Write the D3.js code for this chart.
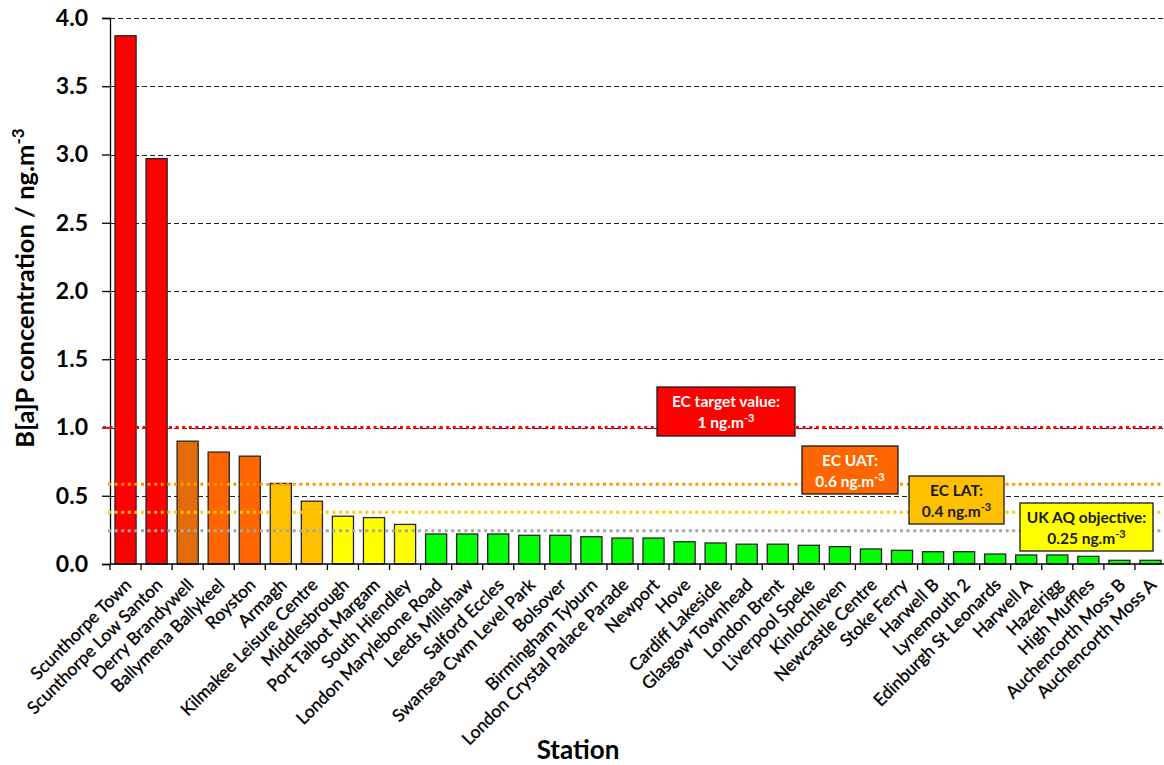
<!DOCTYPE html>
<html>
<head>
<meta charset="utf-8">
<script src="https://cdn.jsdelivr.net/npm/d3@7"></script>
<style>
  html, body { margin: 0; padding: 0; background: #fff; }
  svg { display: block; }
  text { font-family: Lato, "Open Sans", sans-serif; }
</style>
</head>
<body>
<svg id="chart" width="1164" height="765"></svg>
<script>
// ---- data ----
const stations = [
  "Scunthorpe Town", "Scunthorpe Low Santon", "Derry Brandywell", "Ballymena Ballykeel",
  "Royston", "Armagh", "Kilmakee Leisure Centre", "Middlesbrough", "Port Talbot Margam",
  "South Hiendley", "London Marylebone Road", "Leeds Millshaw", "Salford Eccles",
  "Swansea Cwm Level Park", "Bolsover", "Birmingham Tyburn", "London Crystal Palace Parade",
  "Newport", "Hove", "Cardiff Lakeside", "Glasgow Townhead", "London Brent",
  "Liverpool Speke", "Kinlochleven", "Newcastle Centre", "Stoke Ferry", "Harwell B",
  "Lynemouth 2", "Edinburgh St Leonards", "Harwell A", "Hazelrigg", "High Muffles",
  "Auchencorth Moss B", "Auchencorth Moss A"
];
const values = [
  3.87, 2.97, 0.90, 0.82, 0.79, 0.59, 0.46, 0.35, 0.34, 0.29, 0.22, 0.22, 0.22,
  0.21, 0.21, 0.20, 0.19, 0.19, 0.163, 0.154, 0.145, 0.145, 0.137, 0.127, 0.11,
  0.10, 0.09, 0.09, 0.073, 0.066, 0.066, 0.056, 0.027, 0.027
];
const bandClass = [
  "target", "target", "uatNI", "uat", "uat", "lat", "lat", "aq", "aq", "aq",
  "ok", "ok", "ok", "ok", "ok", "ok", "ok", "ok", "ok", "ok", "ok", "ok", "ok",
  "ok", "ok", "ok", "ok", "ok", "ok", "ok", "ok", "ok", "ok", "ok"
];
const yTicks = [0, 0.5, 1.0, 1.5, 2.0, 2.5, 3.0, 3.5, 4.0];
const refNames = ["target", "uat", "lat", "aq"];
const refLevels = [1.0, 0.585, 0.38, 0.243];
const refLabel1 = ["EC target value:", "EC UAT:", "EC LAT:", "UK AQ objective:"];
const refLabel2 = ["1 ng.m", "0.6 ng.m", "0.4 ng.m", "0.25 ng.m"];

// ---- styles ----
const fillColor = d3.scaleOrdinal()
  .domain(["target", "uatNI", "uat", "lat", "aq", "ok"])
  .range(["#ff0000", "#e36c0a", "#ff6600", "#ffc000", "#ffff00", "#00ff00"]);
const lineColor = d3.scaleOrdinal()
  .domain(refNames)
  .range(["#ff0000", "#ff9900", "#ffcc00", "#a6a6a6"]);
const boxFill = d3.scaleOrdinal()
  .domain(refNames)
  .range(["#ff0000", "#ff6600", "#ffc000", "#ffff00"]);
const boxText = d3.scaleOrdinal()
  .domain(refNames)
  .range(["#ffffff", "#ffffff", "#1a1a1a", "#1a1a1a"]);
// annotation box geometry (layout)
const boxes = [
  {x: 657, y: 387, w: 138, h: 49},
  {x: 802, y: 446, w: 96, h: 48},
  {x: 909, y: 476, w: 95, h: 48},
  {x: 1020, y: 503, w: 133, h: 48}
];

const svg = d3.select("#chart");
const mLeft = 110, mRight = 1166, mTop = 18, mBottom = 564;

const x = d3.scaleBand().domain(stations).range([mLeft, mRight]).paddingInner(0.32).paddingOuter(0.16);
const xb = d3.scaleBand().domain(stations).range([mLeft, mRight]);
const y = d3.scaleLinear().domain([0, 4]).range([mBottom, mTop]);

// gridlines
svg.append("g").selectAll("line")
  .data(yTicks.filter(t => t > 0))
  .join("line")
  .attr("x1", mLeft).attr("x2", 1163)
  .attr("y1", d => Math.round(y(d)) + 0.5).attr("y2", d => Math.round(y(d)) + 0.5)
  .attr("stroke", "#222").attr("stroke-width", 1).attr("stroke-dasharray", "5,3");

// bars
svg.append("g").selectAll("rect")
  .data(stations)
  .join("rect")
  .attr("x", d => x(d))
  .attr("width", x.bandwidth())
  .attr("y", (d, i) => y(values[i]))
  .attr("height", (d, i) => y(0) - y(values[i]))
  .attr("fill", (d, i) => fillColor(bandClass[i]))
  .attr("stroke", "#262626").attr("stroke-width", 1.3);

// y axis
const yAxis = d3.axisLeft(y).tickValues(yTicks).tickFormat(d3.format(".1f")).tickSize(8).tickPadding(14);
const gy = svg.append("g").attr("transform", `translate(${mLeft},0)`).call(yAxis);
gy.select(".domain").attr("stroke", "#000").attr("stroke-width", 1.3);
gy.selectAll(".tick line").attr("stroke", "#000").attr("stroke-width", 1.3);
gy.selectAll(".tick text").attr("font-size", 23).attr("font-weight", "bold").attr("fill", "#000")
  .attr("font-family", "Lato, sans-serif");

// x axis
const gx = svg.append("g").attr("transform", `translate(0,${mBottom})`);
gx.append("line").attr("x1", mLeft).attr("x2", mRight).attr("y1", 0).attr("y2", 0)
  .attr("stroke", "#000").attr("stroke-width", 1.3);
gx.selectAll("line.tk")
  .data(stations.concat(["__end"]))
  .join("line").attr("class", "tk")
  .attr("x1", (d, i) => i < stations.length ? xb(d) : mRight)
  .attr("x2", (d, i) => i < stations.length ? xb(d) : mRight)
  .attr("y1", 0).attr("y2", 6)
  .attr("stroke", "#000").attr("stroke-width", 1.3);
gx.selectAll("text.lbl")
  .data(stations)
  .join("text").attr("class", "lbl")
  .attr("transform", d => `translate(${xb(d) + xb.bandwidth() / 2 + 7},${22}) rotate(-45)`)
  .attr("text-anchor", "end")
  .attr("font-size", 17.5)
  .attr("fill", "#000")
  .attr("stroke", "#000").attr("stroke-width", 0.35)
  .text(d => d);

// reference lines (over bars)
svg.append("g").selectAll("line")
  .data(refNames)
  .join("line")
  .attr("x1", (d, i) => i === 0 ? 103 : 108).attr("x2", 1164)
  .attr("y1", (d, i) => y(refLevels[i])).attr("y2", (d, i) => y(refLevels[i]))
  .attr("stroke", d => lineColor(d))
  .attr("stroke-width", 3)
  .attr("stroke-dasharray", "3,3.6");

// annotation boxes
const ann = svg.append("g").selectAll("g")
  .data(refNames)
  .join("g");
ann.append("rect")
  .attr("x", (d, i) => boxes[i].x).attr("y", (d, i) => boxes[i].y)
  .attr("width", (d, i) => boxes[i].w).attr("height", (d, i) => boxes[i].h)
  .attr("fill", d => boxFill(d)).attr("stroke", "#1a1a1a").attr("stroke-width", 1.3);
ann.append("text")
  .attr("x", (d, i) => boxes[i].x + boxes[i].w / 2)
  .attr("y", (d, i) => boxes[i].y + 20)
  .attr("text-anchor", "middle").attr("font-size", 15.5).attr("font-weight", "bold")
  .attr("fill", d => boxText(d))
  .text((d, i) => refLabel1[i]);
const t2 = ann.append("text")
  .attr("x", (d, i) => boxes[i].x + boxes[i].w / 2)
  .attr("y", (d, i) => boxes[i].y + 41)
  .attr("text-anchor", "middle").attr("font-size", 15.5).attr("font-weight", "bold")
  .attr("fill", d => boxText(d));
t2.append("tspan").text((d, i) => refLabel2[i]);
t2.append("tspan").attr("dy", -6).attr("font-size", 11).text("-3");

// axis titles
const yt = svg.append("text")
  .attr("transform", "translate(34,288) rotate(-90)")
  .attr("text-anchor", "middle")
  .attr("font-size", 25.5).attr("font-weight", "bold").attr("fill", "#000");
yt.append("tspan").text("B[a]P concentration / ng.m");
yt.append("tspan").attr("dy", -10).attr("font-size", 17).text("-3");

svg.append("text")
  .attr("x", 578).attr("y", 759)
  .attr("text-anchor", "middle")
  .attr("font-size", 26).attr("font-weight", "bold").attr("fill", "#000")
  .text("Station");
</script>
</body>
</html>
